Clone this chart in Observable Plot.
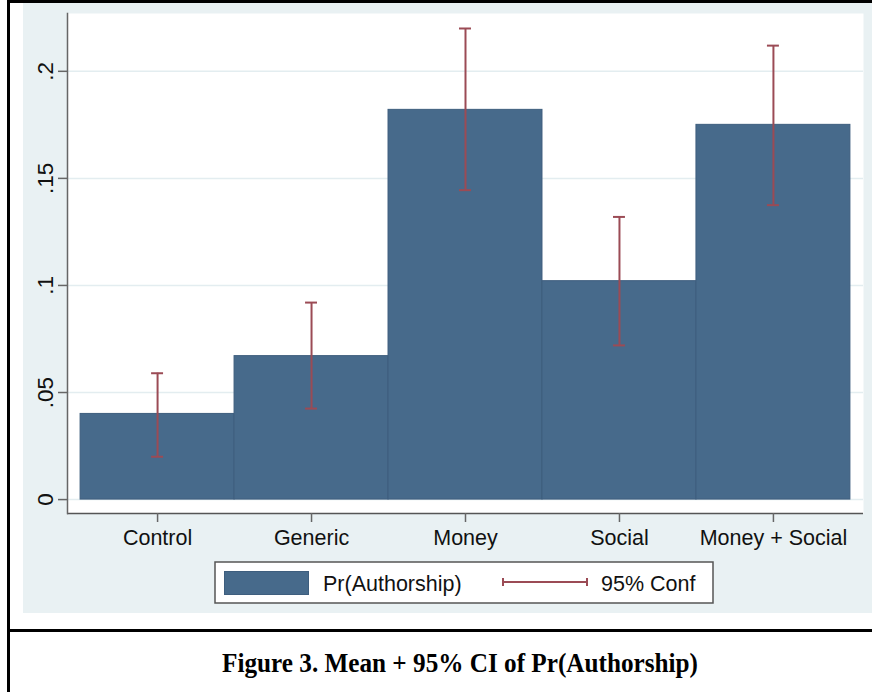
<!DOCTYPE html>
<html>
<head>
<meta charset="utf-8">
<script src="https://cdn.jsdelivr.net/npm/d3@7"></script>
<script src="https://cdn.jsdelivr.net/npm/@observablehq/plot@0.6"></script>
<style>
  body { margin: 0; background: #fff; }
  #fig { position: relative; width: 872px; height: 692px; overflow: hidden; font-family: "Liberation Sans", Arial, sans-serif; }
  #border { position: absolute; left: 7px; top: 0; width: 950px; height: 760px; border-left: 3px solid #000; border-top: 3px solid #000; box-sizing: border-box; }
  #sep { position: absolute; left: 7px; top: 629px; width: 900px; height: 3px; background: #000; }
  #bg { position: absolute; left: 23px; top: 3px; width: 860px; height: 610px; background: #e9f1f3; }
  #chart { position: absolute; left: 0; top: 0; }
  #legend { position: absolute; left: 214px; top: 561px; }
  #caption { position: absolute; left: 0; top: 649px; width: 920px; text-align: center; line-height: 28px;
             font-family: "Liberation Serif", "Times New Roman", serif; font-weight: bold; font-size: 28px; color: #000;
             transform: scaleX(0.9); transform-origin: 460px 0; white-space: nowrap; }
</style>
</head>
<body>
<div id="fig">
  <div id="border"></div>
  <div id="bg"></div>
  <div id="chart"></div>
  <svg id="legend" width="502" height="46">
    <rect x="1" y="1" width="498" height="41" fill="#fff" stroke="#555" stroke-width="1.5"></rect>
    <rect x="10.5" y="10.5" width="84" height="23" fill="#476a8b" stroke="#3e5e7e" stroke-width="1"></rect>
    <text x="109" y="30" font-size="21.5" fill="#111">Pr(Authorship)</text>
    <g stroke="#9b4b55" stroke-width="2">
      <line x1="289" y1="21" x2="373" y2="21"></line>
      <line x1="289" y1="17" x2="289" y2="25"></line>
      <line x1="373" y1="17" x2="373" y2="25"></line>
    </g>
    <text x="387" y="30" font-size="21.5" fill="#111">95% Conf</text>
  </svg>
  <div id="sep"></div>
  <div id="caption">Figure 3. Mean + 95% CI of Pr(Authorship)</div>
</div>
<script>
// Treatment groups and the estimated probability of authorship with 95% intervals
const categories = ["Control", "Generic", "Money", "Social", "Money + Social"];
const means = [0.040, 0.067, 0.182, 0.102, 0.175];
const ciLow = [0.020, 0.0425, 0.1445, 0.072, 0.1375];
const ciHigh = [0.059, 0.092, 0.220, 0.132, 0.212];
const yTicks = [0, 0.05, 0.1, 0.15, 0.2];
const yTickLabels = ["0", ".05", ".1", ".15", ".2"];

const rows = categories.map((c, i) => ({ group: c, mean: means[i], lo: ciLow[i], hi: ciHigh[i] }));

const barFill = "#476a8b";
const barEdge = "#3e5e7e";
const ciColor = "#9b4b55";
const yMin = -0.0065, yMax = 0.227;

const chart = Plot.plot({
  width: 872,
  height: 613,
  marginLeft: 67,
  marginRight: 9,
  marginTop: 13,
  marginBottom: 100,
  style: { background: "transparent", fontFamily: "Liberation Sans, Arial, sans-serif", color: "#111" },
  x: { type: "band", domain: categories, paddingInner: 0, paddingOuter: 0.085, round: false, label: null },
  y: { domain: [yMin, yMax], label: null },
  marks: [
    Plot.frame({ fill: "white", stroke: null }),
    Plot.gridY(yTicks, { stroke: "#e3edf0", strokeOpacity: 1, strokeWidth: 1.5 }),
    Plot.barY(rows, { x: "group", y: "mean", fill: barFill, stroke: barEdge, strokeWidth: 1 }),
    Plot.ruleX(rows, { x: "group", y1: "lo", y2: "hi", stroke: ciColor, strokeWidth: 2 }),
    Plot.tickY(rows, { x: "group", y: "lo", stroke: ciColor, strokeWidth: 2, insetLeft: 71, insetRight: 71 }),
    Plot.tickY(rows, { x: "group", y: "hi", stroke: ciColor, strokeWidth: 2, insetLeft: 71, insetRight: 71 }),
    Plot.ruleY([yMin], { stroke: "#555", strokeWidth: 1.5 }),
    Plot.frame({ anchor: "left", stroke: "#666", strokeWidth: 1.5 }),
    Plot.axisY(yTicks, {
      tickFormat: d => yTickLabels[yTicks.indexOf(d)],
      tickRotate: -90, tickSize: 9, tickPadding: 6,
      textAnchor: "middle", lineAnchor: "bottom",
      fontSize: 22.5, stroke: "#666", strokeWidth: 1.5, fill: "#111"
    }),
    Plot.axisX({ tickSize: 9, tickPadding: 7, fontSize: 21.5, stroke: "#666", strokeWidth: 1.5, fill: "#111" })
  ]
});
document.getElementById("chart").appendChild(chart);
</script>
</body>
</html>
